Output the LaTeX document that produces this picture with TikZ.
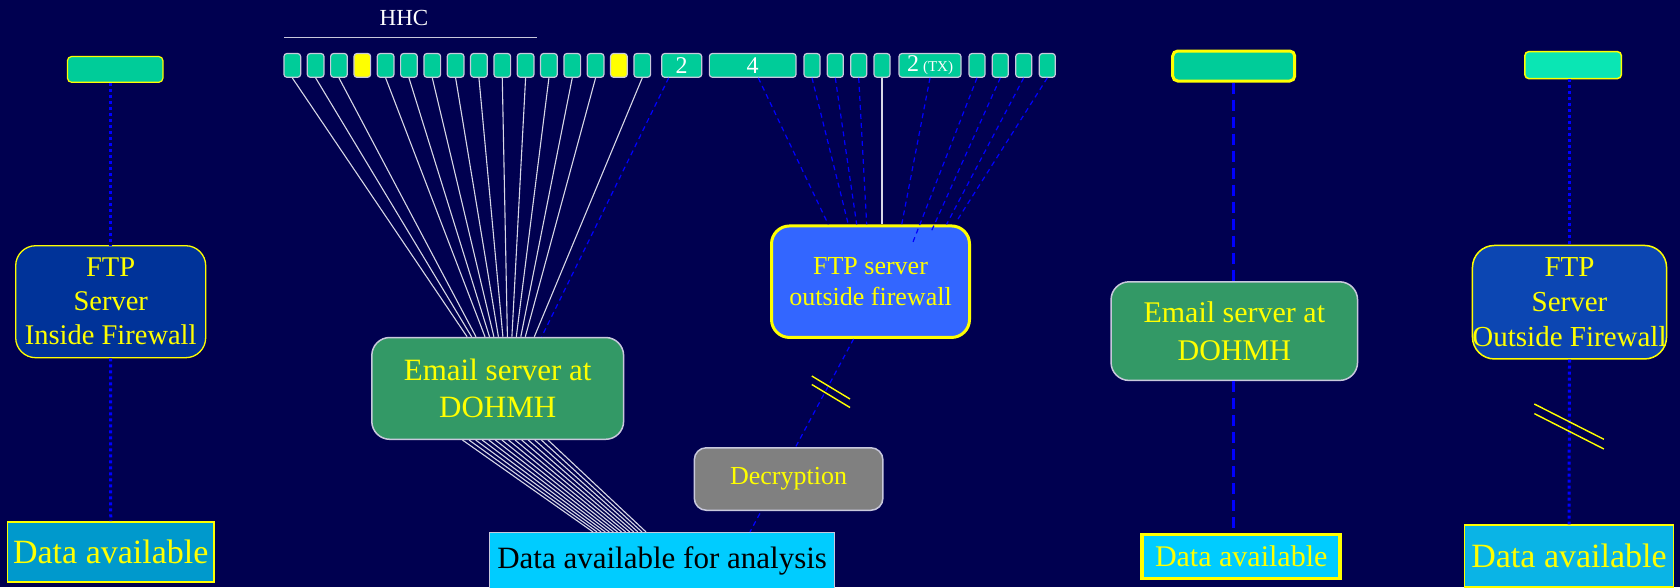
\documentclass[tikz,border=0pt]{standalone}
\usepackage{fontspec}
\setmainfont{Liberation Serif}
\usetikzlibrary{calc}
\definecolor{bgc}{RGB}{0,0,80}
\definecolor{tgreen}{RGB}{0,204,153}
\definecolor{boxline}{RGB}{200,200,220}
\definecolor{ftpdark}{RGB}{0,51,153}
\definecolor{ftpright}{RGB}{12,70,178}
\definecolor{ftpmid}{RGB}{51,102,255}
\definecolor{emailg}{RGB}{51,153,102}
\definecolor{dataLc}{RGB}{0,153,204}
\definecolor{dataCc}{RGB}{0,204,255}
\definecolor{dataRc}{RGB}{10,180,230}
\definecolor{decg}{RGB}{128,128,128}
\definecolor{aqua}{RGB}{10,230,180}
\definecolor{lineb}{RGB}{0,0,255}
\definecolor{fanw}{RGB}{215,215,230}
\definecolor{yel}{RGB}{255,255,0}
\begin{document}
\begin{tikzpicture}[x=1pt,y=-1pt,
  every node/.style={inner sep=0pt, align=center},
  sbox/.style={draw=boxline, line width=1.2pt, fill=tgreen, rounded corners=3pt,
    minimum height=23.8pt, text=white, font=\fontsize{24}{24}\selectfont},
  rbox/.style={rounded corners=#1, text=yel},
  fan/.style={draw=fanw, line width=1.1pt},
  thind/.style={draw=lineb, line width=1.2pt, dash pattern=on 5pt off 4pt},
  dotb/.style={draw=lineb, line width=3pt, dash pattern=on 3pt off 3pt},
  dashb/.style={draw=lineb, line width=3pt, dash pattern=on 11pt off 6pt},
  slash/.style={draw=yel, line width=1.4pt}
]
\fill[bgc] (0,0) rectangle (1680,587);
\useasboundingbox (0,0) rectangle (1680,587);

% HHC label and bracket line
\node[text=white, font=\fontsize{23}{23}\selectfont] (hhc) at (404,18) {HHC};
\coordinate (hl) at (284,37.5);
\coordinate (hr) at (536.7,37.5);
\draw[draw=boxline, line width=1.8pt] (hl) -- (hr);

% top row of small boxes
\foreach \i/\c in {0/tgreen,1/tgreen,2/tgreen,3/yel,4/tgreen,5/tgreen,6/tgreen,7/tgreen,
                   8/tgreen,9/tgreen,10/tgreen,11/tgreen,12/tgreen,13/tgreen,14/yel,15/tgreen}{
  \pgfmathsetmacro\cx{292.3+23.33*\i}
  \node[sbox, fill=\c, minimum width=16.7pt] (b\i) at (\cx,65.4) {};
}
\node[sbox, minimum width=40pt] (two) at (681.7,65.4) {2};
\node[sbox, minimum width=86.7pt] (four) at (752.7,65.4) {4};
\node[sbox, minimum width=16pt] (s1) at (812,65.4) {};
\node[sbox, minimum width=16pt] (s2) at (835.3,65.4) {};
\node[sbox, minimum width=16pt] (s3) at (858.7,65.4) {};
\node[sbox, minimum width=16pt] (s4) at (882,65.4) {};
\node[sbox, minimum width=62pt] (tx) at (930,65.4) {2\,{\fontsize{15}{15}\selectfont (TX)}};
\node[sbox, minimum width=16pt] (r1) at (977,65.4) {};
\node[sbox, minimum width=16pt] (r2) at (1000.3,65.4) {};
\node[sbox, minimum width=16pt] (r3) at (1023.7,65.4) {};
\node[sbox, minimum width=16pt] (r4) at (1047.3,65.4) {};

% left column
\node[draw=yel, line width=1.2pt, fill=tgreen, rounded corners=4pt,
      minimum width=95.4pt, minimum height=25.7pt] (topL) at (115.2,69.4) {};
\node[rbox=20pt, draw=yel, line width=1.3pt, fill=ftpdark,
      minimum width=190pt, minimum height=112pt,
      font=\fontsize{28.5}{34}\selectfont] (ftpL) at (110.7,301.7) {FTP\\Server\\Inside Firewall};
\node[draw=yel, line width=1.5pt, fill=dataLc, text=yel,
      minimum width=206.5pt, minimum height=60pt,
      font=\fontsize{34}{34}\selectfont] (dataL) at (110.75,551.8) {Data available};

% centre
\node[rbox=18pt, draw=boxline, line width=1.5pt, fill=emailg,
      minimum width=251.8pt, minimum height=101.8pt,
      font=\fontsize{31}{37}\selectfont] (em1) at (497.7,388.4) {Email server at\\DOHMH};
\node[draw=boxline, line width=1.2pt, fill=dataCc, text=black,
      minimum width=345pt, minimum height=57.5pt,
      font=\fontsize{31}{31}\selectfont] (dataA) at (662.1,561.25) {Data available for analysis};
\node[rbox=18pt, draw=yel, line width=3pt, fill=ftpmid,
      minimum width=198pt, minimum height=111.5pt,
      font=\fontsize{26}{31}\selectfont] (ftp2) at (870.5,281.7) {FTP server\\outside firewall};

% line from FTP server outside firewall to analysis (behind Decryption)
\draw[thind] (ftp2.south -| 853.6,0) -- (dataA.north -| 750,0);
\node[rbox=12pt, draw=boxline, line width=1.5pt, fill=decg,
      minimum width=188.6pt, minimum height=62.5pt,
      font=\fontsize{26}{26}\selectfont] (dec) at (788.6,479) {Decryption};

% right part
\node[draw=yel, line width=3pt, fill=tgreen, rounded corners=5pt,
      minimum width=122pt, minimum height=30pt] (topA) at (1233.7,66) {};
\node[rbox=18pt, draw=boxline, line width=1.5pt, fill=emailg,
      minimum width=246.5pt, minimum height=98.6pt,
      font=\fontsize{30}{37.5}\selectfont] (em2) at (1234.3,331.1) {Email server at\\DOHMH};
\node[draw=yel, line width=3.5pt, fill=dataCc, text=yel,
      minimum width=198pt, minimum height=44pt,
      font=\fontsize{30}{30}\selectfont] (dataM) at (1241.2,556.6) {Data available};

\node[draw=yel, line width=1.5pt, fill=aqua, rounded corners=4pt,
      minimum width=96.5pt, minimum height=27pt] (topB) at (1573.1,65.1) {};
\node[rbox=22pt, draw=yel, line width=1.5pt, fill=ftpright,
      minimum width=193pt, minimum height=113.5pt,
      font=\fontsize{29}{35}\selectfont] (ftpR) at (1569.5,302.2) {FTP\\Server\\Outside Firewall};
\node[draw=yel, line width=1.5pt, fill=dataRc, text=yel,
      minimum width=209pt, minimum height=62pt,
      font=\fontsize{34}{34}\selectfont] (dataR) at (1569,556) {Data available};

% fan from HHC boxes to email server
\foreach \i/\xb in {0/467.1,1/471.6,2/476.0,4/485.0,5/489.5,6/493.9,7/498.4,8/502.9,
                    9/507.4,10/511.9,11/516.3,12/520.8,13/525.3,15/534.3}{
  \draw[fan] (b\i.south) -- (em1.north -| \xb,0);
}
\draw[thind] ([xshift=-13pt]two.south) -- (em1.north -| 541.7,0);

% fan from email server to analysis
\foreach \k in {0,...,13}{
  \pgfmathsetmacro\xt{462.5+6.577*\k}
  \pgfmathsetmacro\xd{593+4.077*\k}
  \draw[fan] (em1.south -| \xt,0) -- (dataA.north -| \xd,0);
}

% lines to FTP server outside firewall
\coordinate (r1e) at (913,242);
\coordinate (r2e) at (931,232);
\coordinate (r4e) at (958,219);
\draw[thind] ([xshift=5.6pt]four.south) -- (ftp2.north -| 828.3,0);
\draw[thind] (s1.south) -- (ftp2.north -| 848.3,0);
\draw[thind] (s2.south) -- (ftp2.north -| 856.7,0);
\draw[thind] (s3.south) -- (ftp2.north -| 866.7,0);
\draw[fan] (s4.south) -- (s4.south |- ftp2.north);
\draw[thind] (tx.south) -- (ftp2.north -| 901.7,0);
\draw[thind] (r1.south) -- (r1e);
\draw[thind] (r2.south) -- (r2e);
\draw[thind] (r3.south) -- (ftp2.north -| 946.5,0);
\draw[thind] (r4.south) -- (r4e);

% vertical connectors
\draw[dotb] (topL.south -| ftpL.north) -- (ftpL.north);
\draw[dotb] (ftpL.south) -- (dataL.north);
\draw[dashb] (topA.south) -- (em2.north -| topA.south);
\draw[dashb] (em2.south -| topA.south) -- (dataM.north -| topA.south);
\draw[dotb] (topB.south -| ftpR.north) -- (ftpR.north);
\draw[dotb] (ftpR.south) -- (dataR.north);

% break marks
\draw[slash] (811.8,376) -- (850,399);
\draw[slash] (811.8,384.5) -- (850,407.5);
\draw[slash] (1534.3,404) -- (1603.9,439.3);
\draw[slash] (1534.3,413.6) -- (1603.9,449);
\end{tikzpicture}
\end{document}
